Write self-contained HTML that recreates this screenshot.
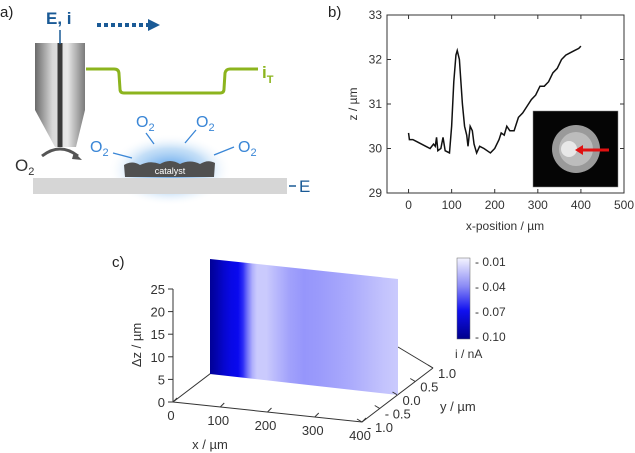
<!DOCTYPE html>
<html><head><meta charset="utf-8"><style>
html,body{margin:0;padding:0;background:#fff;}
svg{display:block;font-family:"Liberation Sans",sans-serif;}
</style></head><body>
<svg id="fig" width="635" height="453" viewBox="0 0 635 453">
<defs>
<radialGradient id="glow" cx="0.5" cy="0.5" r="0.5">
<stop offset="0" stop-color="#3a8ee8" stop-opacity="0.9"/>
<stop offset="0.6" stop-color="#8cc0f0" stop-opacity="0.5"/>
<stop offset="1" stop-color="#ffffff" stop-opacity="0"/>
</radialGradient>
<linearGradient id="pip" x1="0" x2="1" y1="0" y2="0">
<stop offset="0" stop-color="#6a6a6a"/><stop offset="0.35" stop-color="#d8d8d8"/><stop offset="0.65" stop-color="#e8e8e8"/><stop offset="1" stop-color="#7a7a7a"/>
</linearGradient>
<linearGradient id="cbar" x1="0" x2="0" y1="0" y2="1">
<stop offset="0" stop-color="#f4f4ff"/><stop offset="0.35" stop-color="#8a8af5"/><stop offset="0.65" stop-color="#1010f0"/><stop offset="1" stop-color="#00008a"/>
</linearGradient>
<linearGradient id="heat" gradientUnits="userSpaceOnUse" x1="210" x2="398" y1="0" y2="0"></linearGradient>
</defs>

<!-- Panel a -->
<g>
<text x="0" y="17" font-size="15" fill="#222">a)</text>
<ellipse cx="170" cy="170" rx="62" ry="36" fill="url(#glow)"/>
<rect x="33" y="178" width="254" height="16" fill="#d6d6d6"/>
<path d="M125,177 L124,165 Q132,160 140,165 Q150,160 160,164 Q170,158 180,164 Q190,159 200,164 Q208,159 215,163 L214,177 Z" fill="#505050"/>
<text x="170" y="174" font-size="9" fill="#fff" text-anchor="middle">catalyst</text>
<path d="M35,43 L85,43 L85,110 L76,147 L55,147 L35,110 Z" fill="url(#pip)"/>
<rect x="57.5" y="43" width="5" height="104" fill="#3a3a3a"/>
<line x1="60" y1="30" x2="60" y2="44" stroke="#1a5a96" stroke-width="1.5"/>
<text x="46" y="24" font-size="17" font-weight="bold" fill="#1a5a96">E, i</text>
<line x1="97" y1="25" x2="148" y2="25" stroke="#1a5a96" stroke-width="4" stroke-dasharray="4,3"/>
<polygon points="148,19 160,25 148,31" fill="#1a5a96"/>
<path d="M86,69 L114,69 Q119,69 119,74 L120,89 Q120,93 124,93 L220,93 Q224,93 224,89 L225,73 Q226,69 230,69 L258,69" fill="none" stroke="#8cb41e" stroke-width="3"/>
<text x="262" y="78" font-size="17" fill="#8cb41e" font-weight="bold">i<tspan font-size="11" dy="5">T</tspan></text>
<path d="M42,156 Q60,142 78,156" fill="none" stroke="#555" stroke-width="3"/>
<polygon points="74,152 82,160 72,159" fill="#555"/>
<text x="15" y="171" font-size="17" fill="#333">O<tspan font-size="11" dy="4">2</tspan></text>
<g fill="#3a86d6" font-size="16">
<text x="136" y="127">O<tspan font-size="11" dy="4">2</tspan></text>
<text x="196" y="127">O<tspan font-size="11" dy="4">2</tspan></text>
<text x="90" y="152">O<tspan font-size="11" dy="4">2</tspan></text>
<text x="238" y="152">O<tspan font-size="11" dy="4">2</tspan></text>
</g>
<g stroke="#3a86d6" stroke-width="1.3">
<line x1="146" y1="133" x2="154" y2="144"/><line x1="196" y1="130" x2="185" y2="143"/>
<line x1="113" y1="153" x2="132" y2="158"/><line x1="234" y1="147" x2="214" y2="155"/>
</g>
<line x1="289" y1="186" x2="296" y2="186" stroke="#1a5a96" stroke-width="1.5"/>
<text x="299" y="192" font-size="17" fill="#1a5a96">E</text>
</g>

<!-- Panel b -->
<g id="pb">
<text x="328" y="17" font-size="15" fill="#222">b)</text>
</g>

<!-- Panel c -->
<g id="pc">
<text x="112" y="267" font-size="15" fill="#222">c)</text>
</g>
</svg>
<script>
const NS="http://www.w3.org/2000/svg";
function mk(parent,tag,attrs,txt){const e=document.createElementNS(NS,tag);for(const k in attrs)e.setAttribute(k,attrs[k]);if(txt!==undefined)e.textContent=txt;parent.appendChild(e);return e;}

// Panel b data
const profileX=[0,2,10,20,30,40,50,58,62,65,68,75,80,85,95,100,105,110,113,118,125,130,135,138,143,148,152,158,165,175,190,200,210,215,222,228,235,245,255,265,275,285,295,305,315,325,335,345,355,365,375,385,395,400];
const profileZ=[30.35,30.2,30.2,30.15,30.1,30.05,30.0,30.1,30.05,30.25,29.95,30.0,30.25,29.95,29.9,30.5,31.5,32.1,32.2,32.0,31.0,30.5,30.3,30.05,30.5,30.4,30.1,29.9,30.05,30.0,29.9,30.0,30.2,30.35,30.3,30.5,30.4,30.4,30.7,30.8,30.95,31.1,31.2,31.4,31.4,31.5,31.7,31.8,32.0,32.1,32.15,32.2,32.25,32.3];
const bXTicks=[0,100,200,300,400,500];
const bYTicks=[29,30,31,32,33];

const pb=document.getElementById('pb');
const bx=v=>387+(v+50)/550*237;
const by=v=>193-(v-29)/4*178;
const frame=mk(pb,'rect',{x:387,y:15,width:237,height:178,fill:'none',stroke:'#333','stroke-width':1});


bXTicks.forEach(t=>{
  mk(pb,'line',{x1:bx(t),x2:bx(t),y1:193,y2:189,stroke:'#333'});
  mk(pb,'line',{x1:bx(t),x2:bx(t),y1:15,y2:19,stroke:'#333'});
  const l=mk(pb,'text',{x:bx(t),y:209,'font-size':12,fill:'#333','text-anchor':'middle'},String(t));
  
  
});
bYTicks.forEach(t=>{
  mk(pb,'line',{x1:387,x2:391,y1:by(t),y2:by(t),stroke:'#333'});
  mk(pb,'line',{x1:624,x2:620,y1:by(t),y2:by(t),stroke:'#333'});
  const l=mk(pb,'text',{x:382,y:by(t)+4,'font-size':12,fill:'#333','text-anchor':'end'},String(t));
  
  
});
const xt=mk(pb,'text',{x:505,y:230,'font-size':12,fill:'#333','text-anchor':'middle'},'x-position / µm');


const yt=mk(pb,'text',{x:0,y:0,'font-size':12,fill:'#333','text-anchor':'middle',transform:'translate(357,104) rotate(-90)'},'z / µm');


const line=mk(pb,'polyline',{points:profileX.map((x,i)=>bx(x)+','+by(profileZ[i])).join(' '),fill:'none',stroke:'#111','stroke-width':1.5});


const inset=mk(pb,'g',{});


mk(inset,'rect',{x:533,y:111,width:85,height:76,fill:'#050505',stroke:'#888','stroke-width':0.5});
mk(inset,'circle',{cx:576,cy:149,r:24,fill:'#9a9a9a'});
mk(inset,'circle',{cx:576,cy:149,r:17,fill:'#bcbcbc'});
mk(inset,'circle',{cx:569,cy:149,r:8,fill:'#e8e8e8'});
mk(inset,'line',{x1:609,y1:150,x2:578,y2:150,stroke:'#e01010','stroke-width':3});
mk(inset,'polygon',{points:'575,150 583,145 583,155',fill:'#e01010'});

// Panel c data
const heatX=[0,15,30,45,60,70,80,90,100,120,140,170,200,230,260,300,340,370,400];
const heatI=[-0.10,-0.092,-0.082,-0.075,-0.072,-0.062,-0.045,-0.03,-0.022,-0.022,-0.027,-0.034,-0.037,-0.036,-0.034,-0.031,-0.027,-0.024,-0.022];
const zTicks=[0,5,10,15,20,25];
const xTicks3=[0,100,200,300,400];
const yTicks3=[1.0,0.5,0.0,-0.5,-1.0];
const yTickText=['1.0','0.5','0.0','- 0.5','- 1.0'];
const cbarTicks=['- 0.01','- 0.04','- 0.07','- 0.10'];

const pc=document.getElementById('pc');
function cmap(v){
  const stops=[[-0.10,[0,0,150]],[-0.07,[10,10,245]],[-0.04,[140,140,250]],[-0.01,[244,244,255]]];
  v=Math.max(-0.10,Math.min(-0.01,v));
  for(let i=0;i<3;i++){const a=stops[i],b=stops[i+1];if(v<=b[0]){const t=(v-a[0])/(b[0]-a[0]);return 'rgb('+a[1].map((c,k)=>Math.round(c+(b[1][k]-c)*t)).join(',')+')';}}
  return 'rgb(244,244,255)';
}
const P=(x,y,z)=>{const px=173+x/400*189+(y+1)/2*71;const py=402+x/400*20-(y+1)/2*54-z/25*113;return [px,py];};
const g=document.getElementById('heat');
heatX.forEach((x,i)=>mk(g,'stop',{offset:x/400,'stop-color':cmap(heatI[i])}));
const ax=mk(pc,'g',{stroke:'#333','stroke-width':1,fill:'none'});


let o=P(0,-1,0),a=P(0,-1,25),b=P(400,-1,0),c=P(400,1,0),d=P(0,1,0);
mk(ax,'line',{x1:o[0],y1:o[1],x2:a[0],y2:a[1]});
mk(ax,'polyline',{points:[d,o,b,c].map(p=>p.join(',')).join(' ')});
mk(ax,'line',{x1:c[0],y1:c[1],x2:c[0]-35,y2:c[1]-21});
const tl=[210,259],tr=[398,279],br=[398,395],bl=[210,374];
const plane=mk(pc,'polygon',{points:[tl,tr,br,bl].map(p=>p.join(',')).join(' '),fill:'url(#heat)'});


zTicks.forEach(t=>{const p=P(0,-1,t);mk(pc,'line',{x1:p[0],y1:p[1],x2:p[0]-5,y2:p[1],stroke:'#333'});
  const l=mk(pc,'text',{x:p[0]-8,y:p[1]+5,'font-size':13,fill:'#333','text-anchor':'end'},String(t));
  
  });
xTicks3.forEach(t=>{const p=P(t,-1,0);mk(pc,'line',{x1:p[0],y1:p[1],x2:p[0]+4,y2:p[1]-4,stroke:'#333'});
  const l=mk(pc,'text',{x:p[0]-2,y:p[1]+18,'font-size':13,fill:'#333','text-anchor':'middle'},String(t));
  
  });
yTicks3.forEach((t,i)=>{const p=P(400,t,0);mk(pc,'line',{x1:p[0],y1:p[1],x2:p[0]-5,y2:p[1]-3,stroke:'#333'});
  const l=mk(pc,'text',{x:p[0]+5,y:p[1]+10,'font-size':13,fill:'#333'},yTickText[i]);
  
  });
const zt=mk(pc,'text',{x:0,y:0,'font-size':13,fill:'#333','text-anchor':'middle',transform:'translate(141,345) rotate(-90)'},'Δz / µm');


const x3=mk(pc,'text',{x:210,y:449,'font-size':13,fill:'#333','text-anchor':'middle'},'x / µm');


const y3=mk(pc,'text',{x:440,y:411,'font-size':13,fill:'#333'},'y / µm');


const cb=mk(pc,'rect',{x:457,y:258,width:13,height:81,fill:'url(#cbar)',stroke:'#666','stroke-width':0.5});


cbarTicks.forEach((t,i)=>{const y=262+i*25;
  const l=mk(pc,'text',{x:475,y:y+4,'font-size':12,fill:'#333'},t);
  
  });
const cbt=mk(pc,'text',{x:455,y:358,'font-size':12,fill:'#333'},'i / nA');


</script>
</body></html>
